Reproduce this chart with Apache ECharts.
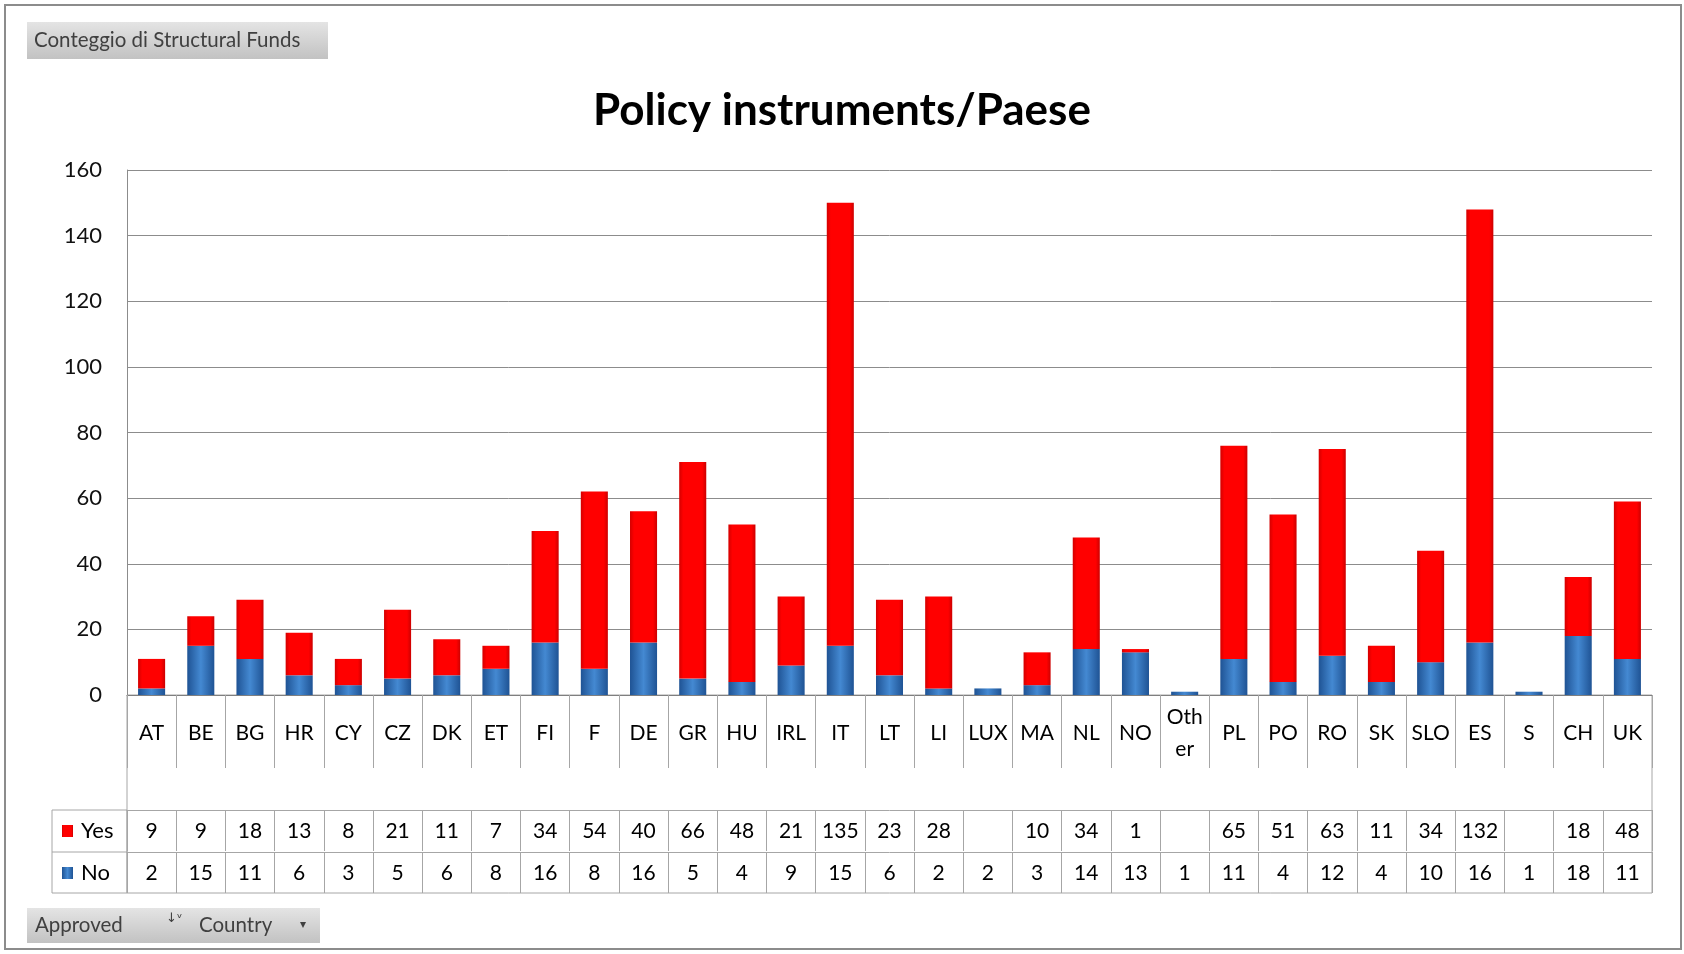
<!DOCTYPE html>
<html>
<head>
<meta charset="utf-8">
<title>Policy instruments/Paese</title>
<script src="https://cdn.jsdelivr.net/npm/echarts@6/dist/echarts.min.js"></script>
<style>
  html, body { margin: 0; padding: 0; background: #fff; }
  #policyChart { width: 1684px; height: 954px; }
</style>
</head>
<body>
<div id="policyChart"></div>
<script>
// dati
const categories = ['AT', 'BE', 'BG', 'HR', 'CY', 'CZ', 'DK', 'ET', 'FI', 'F', 'DE', 'GR', 'HU', 'IRL', 'IT', 'LT', 'LI', 'LUX', 'MA', 'NL', 'NO', 'Other', 'PL', 'PO', 'RO', 'SK', 'SLO', 'ES', 'S', 'CH', 'UK']
const yesValues = [9, 9, 18, 13, 8, 21, 11, 7, 34, 54, 40, 66, 48, 21, 135, 23, 28, null, 10, 34, 1, null, 65, 51, 63, 11, 34, 132, null, 18, 48]
const noValues = [2, 15, 11, 6, 3, 5, 6, 8, 16, 8, 16, 5, 4, 9, 15, 6, 2, 2, 3, 14, 13, 1, 11, 4, 12, 4, 10, 16, 1, 18, 11]
const yMin = 0
const yMax = 160
const yStep = 20

const FONT = 'Lato'
const LINE = '#a6a6a6'

const redFill = {
  type: 'linear', x: 0, y: 0, x2: 1, y2: 0,
  colorStops: [
    { offset: 0, color: '#d40000' },
    { offset: 0.15, color: '#ff0000' },
    { offset: 0.85, color: '#ff0000' },
    { offset: 1, color: '#cc0000' }
  ]
}
const blueFill = {
  type: 'linear', x: 0, y: 0, x2: 1, y2: 0,
  colorStops: [
    { offset: 0, color: '#1f5394' },
    { offset: 0.5, color: '#4489d2' },
    { offset: 1, color: '#1f5394' }
  ]
}
const buttonFill = {
  type: 'linear', x: 0, y: 0, x2: 0, y2: 1,
  colorStops: [{ offset: 0, color: '#e4e4e4' }, { offset: 1, color: '#c2c2c2' }]
}

// riga della tabella dati sotto l'asse
function tableRow (values, offset) {
  return {
    type: 'category',
    data: categories,
    position: 'bottom',
    offset: offset,
    axisLine: { show: true, lineStyle: { color: LINE } },
    axisTick: { show: true, interval: 0, length: 41, lineStyle: { color: LINE } },
    axisLabel: {
      interval: 0,
      margin: 21,
      verticalAlign: 'middle',
      fontFamily: FONT,
      fontSize: 21,
      color: '#000',
      formatter: (v, i) => values[i] == null ? '' : String(values[i])
    }
  }
}

const chart = echarts.init(document.getElementById('policyChart'))
chart.setOption({
  backgroundColor: '#fff',
  animation: false,
  title: {
    text: 'Policy instruments/Paese',
    left: 'center',
    top: 89,
    padding: 0,
    textStyle: { fontFamily: FONT, fontSize: 44, fontWeight: 'bold', color: '#000' }
  },
  legend: {
    data: ['Yes', 'No'],
    orient: 'vertical',
    left: 62,
    top: 820,
    padding: 0,
    itemWidth: 11,
    itemHeight: 12,
    itemGap: 20,
    icon: 'rect',
    textStyle: { fontFamily: FONT, fontSize: 22, color: '#000', lineHeight: 22, padding: [0, 0, 0, 3] }
  },
  grid: [
    { left: 127, right: 32, top: 170, bottom: 259 },
    { left: 127, right: 32, top: 695, bottom: 61, show: true, borderColor: LINE, borderWidth: 1, backgroundColor: 'transparent' }
  ],
  xAxis: [
    {
      type: 'category',
      data: categories,
      axisLine: { show: true, lineStyle: { color: '#7f7f7f' } },
      axisTick: { show: true, interval: 0, length: 73, lineStyle: { color: LINE } },
      axisLabel: {
        interval: 0,
        margin: 38,
        verticalAlign: 'middle',
        fontFamily: FONT,
        fontSize: 21,
        lineHeight: 32,
        color: '#000',
        formatter: v => v === 'Other' ? 'Oth\ner' : v
      }
    },
    tableRow(yesValues, 115),
    tableRow(noValues, 157),
    { type: 'value', gridIndex: 1, show: false }
  ],
  yAxis: [
    {
      type: 'value',
      min: yMin,
      max: yMax,
      interval: yStep,
      axisLine: { show: true, lineStyle: { color: '#8c8c8c' } },
      axisTick: { show: false },
      axisLabel: { margin: 25, fontFamily: FONT, fontSize: 22, color: '#111' },
      splitLine: { lineStyle: { color: '#8c8c8c', width: 1 } }
    },
    { type: 'value', gridIndex: 1, show: false }
  ],
  series: [
    {
      name: 'No',
      type: 'bar',
      stack: 'tot',
      data: noValues,
      barCategoryGap: '45%',
      itemStyle: { color: blueFill }
    },
    {
      name: 'Yes',
      type: 'bar',
      stack: 'tot',
      data: yesValues,
      barCategoryGap: '45%',
      itemStyle: { color: redFill }
    }
  ],
  graphic: [
    { type: 'rect', z: -10, shape: { x: 5, y: 5, width: 1676, height: 944 }, style: { fill: 'none', stroke: '#8c8c8c', lineWidth: 2 } },
    // bottone del campo valori
    { type: 'rect', shape: { x: 27, y: 22, width: 301, height: 37 }, style: { fill: buttonFill } },
    { type: 'text', left: 34, top: 30, style: { text: 'Conteggio di Structural Funds', fontFamily: FONT, fontSize: 20.5, fill: '#404040' } },
    // bottoni dei campi in basso
    { type: 'rect', shape: { x: 27, y: 908, width: 166, height: 35 }, style: { fill: buttonFill } },
    { type: 'rect', shape: { x: 193, y: 908, width: 127, height: 35 }, style: { fill: buttonFill } },
    { type: 'text', left: 35, top: 915, style: { text: 'Approved', fontFamily: FONT, fontSize: 20.5, fill: '#404040' } },
    { type: 'text', left: 166, top: 912, style: { text: '↓ᵛ', fontFamily: 'DejaVu Sans', fontSize: 13, fill: '#404040' } },
    { type: 'text', left: 199, top: 915, style: { text: 'Country', fontFamily: FONT, fontSize: 20.5, fill: '#404040' } },
    { type: 'text', left: 300, top: 919, style: { text: '▾', fontFamily: 'DejaVu Sans', fontSize: 12, fill: '#404040' } },
    // colonna della legenda nella tabella
    { type: 'rect', shape: { x: 52, y: 810, width: 75, height: 83 }, style: { fill: 'none', stroke: LINE, lineWidth: 1 } },
    { type: 'line', shape: { x1: 52, y1: 852, x2: 127, y2: 852 }, style: { stroke: LINE, lineWidth: 1 } }
  ]
})
</script>
</body>
</html>
